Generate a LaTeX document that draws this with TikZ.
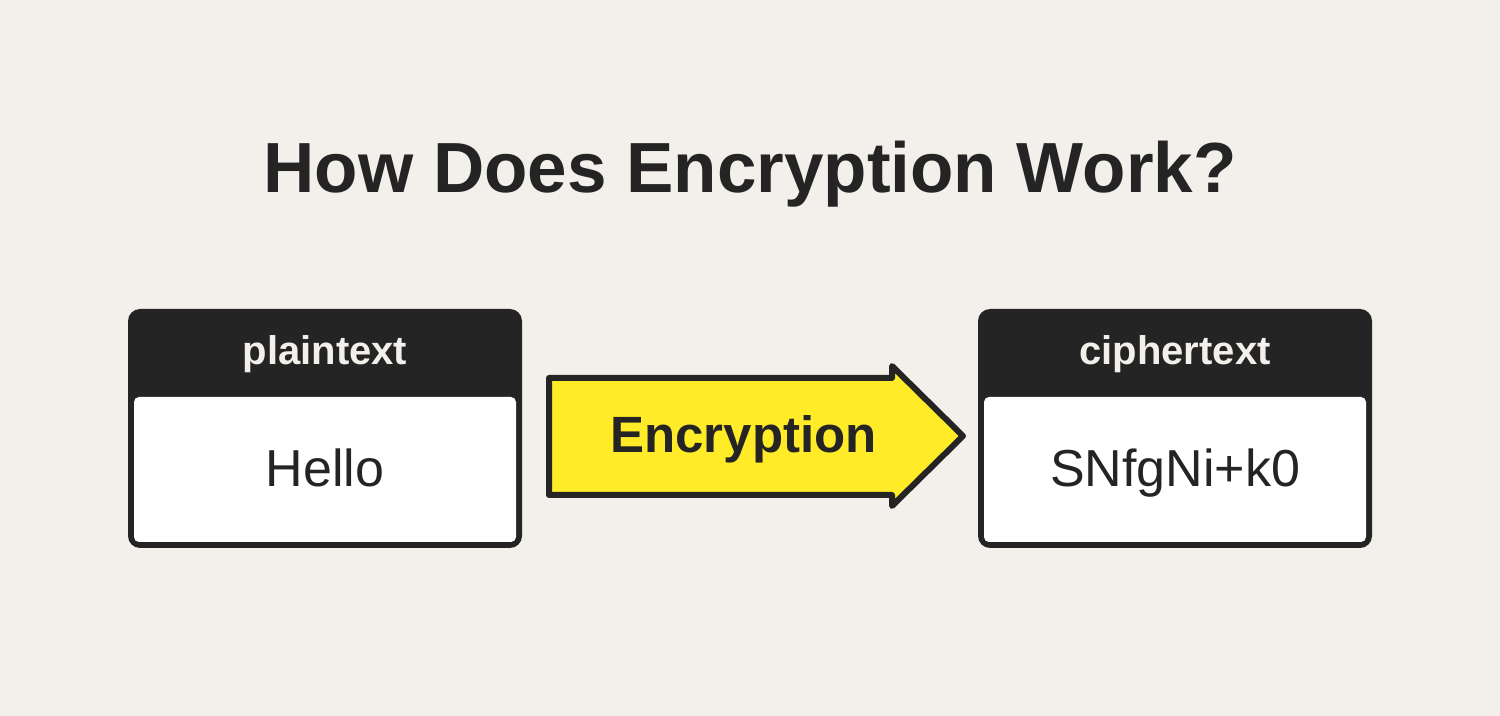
\documentclass[tikz,border=0pt]{standalone}
\usepackage{fontspec}
\setmainfont{Liberation Sans}
\definecolor{bg}{RGB}{243,240,235}
\definecolor{ink}{RGB}{36,36,36}
\definecolor{hl}{RGB}{255,235,40}
\tikzset{
  titletext/.style={text=ink, font=\bfseries\fontsize{35.5}{40}\selectfont, anchor=base, inner sep=0pt},
  headtext/.style={text=bg, font=\bfseries\fontsize{20}{24}\selectfont, anchor=base, inner sep=0pt},
  bodytext/.style={text=ink, font=\fontsize{26}{30}\selectfont, anchor=base, inner sep=0pt},
  arrowtext/.style={text=ink, font=\bfseries\fontsize{25.5}{30}\selectfont, anchor=base, inner sep=0pt},
  outerbox/.style={fill=ink, rounded corners=6pt},
  innerbox/.style={fill=white, rounded corners=2.5pt},
  arrowshape/.style={fill=hl, draw=ink, line width=3pt, line join=round}
}
\begin{document}
\begin{tikzpicture}[x=0.5pt,y=-0.5pt]
\useasboundingbox (0,0) rectangle (1500,716);
\fill[bg] (0,0) rectangle (1500,716);
% title
\node[titletext] (title) at (750,193) {How Does Encryption Work?};
% left box
\fill[outerbox] (128,309) rectangle (522,548);
\fill[innerbox] (134,397) rectangle (516,542);
\node[headtext] (plainhead) at (325,365) {plaintext};
\node[bodytext] (plain) at (325,487) {Hello};
% right box
\fill[outerbox] (978,309) rectangle (1372,548);
\fill[innerbox] (984,397) rectangle (1366,542);
\node[headtext] (cipherhead) at (1175,365) {ciphertext};
\node[bodytext] (cipher) at (1175,487) {SNfgNi+k0};
% arrow
\draw[arrowshape] (549,378) -- (892,378) -- (892,366) -- (963,436) -- (892,506) -- (892,495) -- (549,495) -- cycle;
\node[arrowtext] (enc) at (743.5,453) {Encryption};
\end{tikzpicture}
\end{document}
